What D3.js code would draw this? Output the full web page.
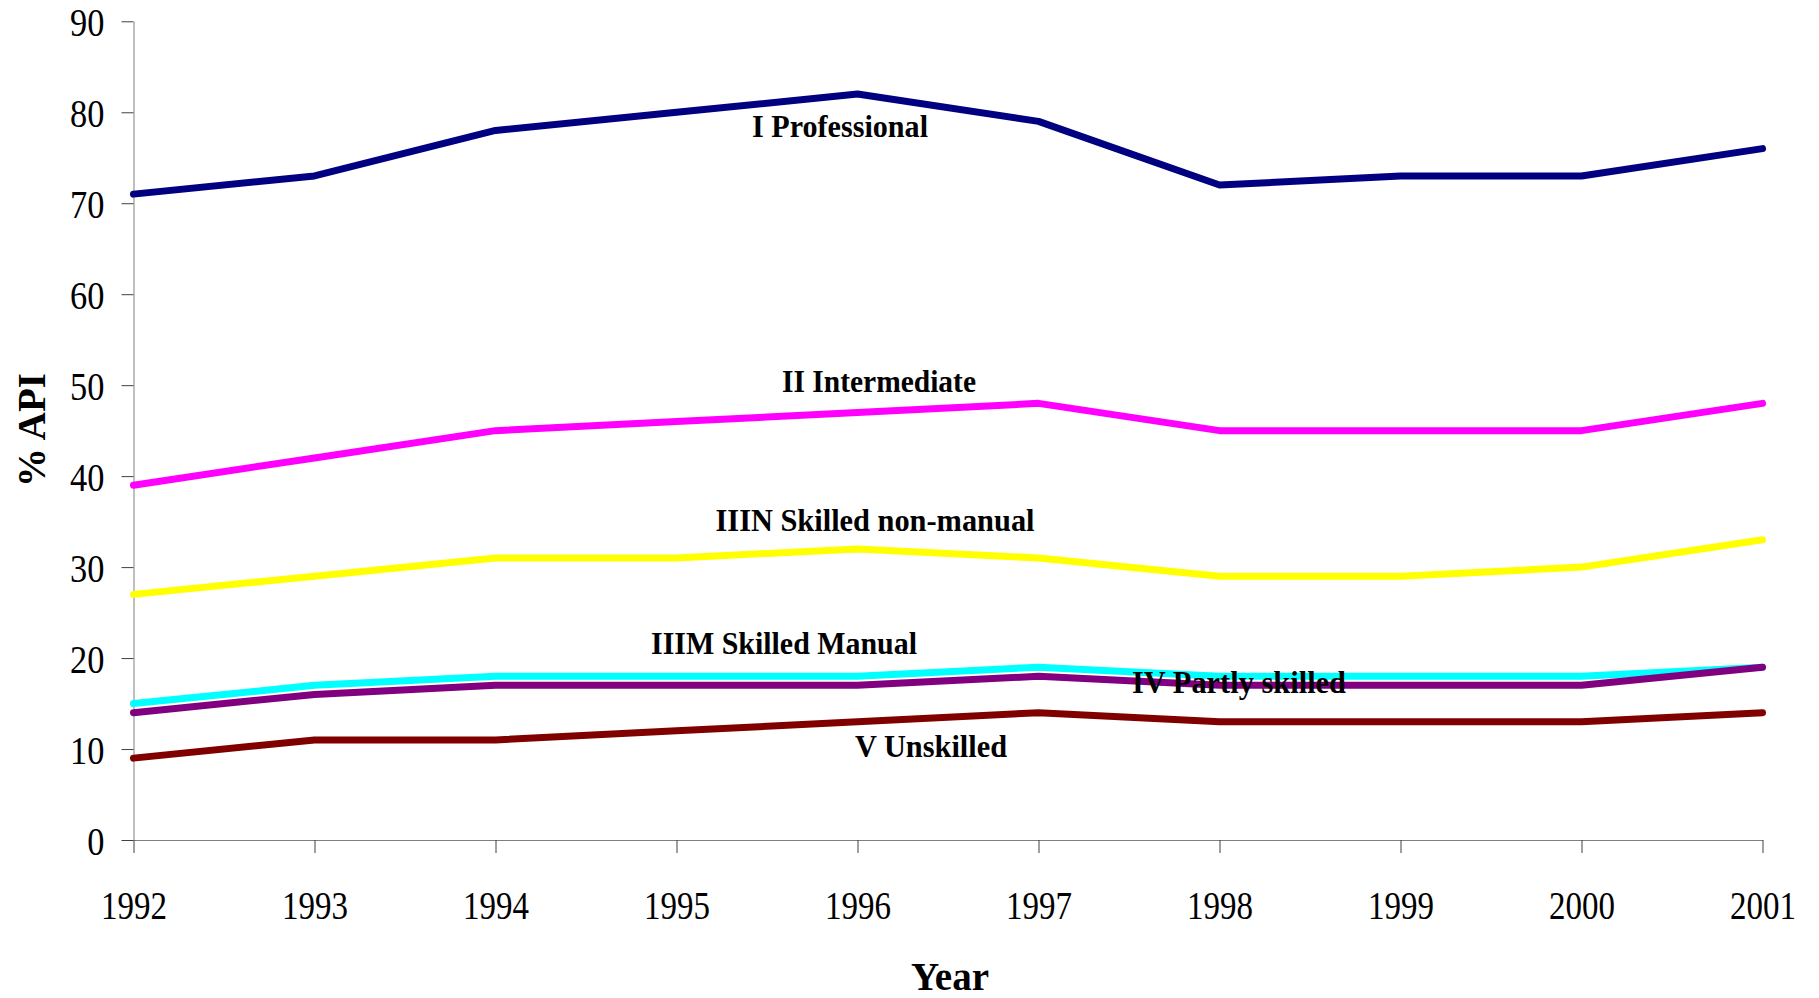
<!DOCTYPE html>
<html>
<head>
<meta charset="utf-8">
<script src="https://cdn.jsdelivr.net/npm/d3@7"></script>
<style>
  body { margin: 0; background: #fff; }
  svg { display: block; font-family: "Liberation Serif", "Times New Roman", serif; }
</style>
</head>
<body>
<div id="chart"></div>
<script>
const years = [1992, 1993, 1994, 1995, 1996, 1997, 1998, 1999, 2000, 2001];
const yTicks = [0, 10, 20, 30, 40, 50, 60, 70, 80, 90];

const professional = [71, 73, 78, 80, 82, 79, 72, 73, 73, 76];
const intermediate = [39, 42, 45, 46, 47, 48, 45, 45, 45, 48];
const skilledNonManual = [27, 29, 31, 31, 32, 31, 29, 29, 30, 33];
const skilledManual = [15, 17, 18, 18, 18, 19, 18, 18, 18, 19];
const partlySkilled = [14, 16, 17, 17, 17, 18, 17, 17, 17, 19];
const unskilled = [9, 11, 11, 12, 13, 14, 13, 13, 13, 14];

const seriesNames = ["I Professional", "II Intermediate", "IIIN Skilled non-manual",
    "IIIM Skilled Manual", "IV Partly skilled", "V Unskilled"];
const seriesValues = [professional, intermediate, skilledNonManual, skilledManual, partlySkilled, unskilled];
const seriesColors = ["#000080", "#ff00ff", "#ffff00", "#00ffff", "#800080", "#800000"];

// label placement: center x, baseline y, drawn width (px)
const labelPos = [
    { x: 840, y: 137, w: 176 },
    { x: 879, y: 392, w: 194 },
    { x: 875, y: 531, w: 319 },
    { x: 784, y: 654, w: 266 },
    { x: 1239, y: 693, w: 214 },
    { x: 931, y: 757, w: 152 },
];

const width = 1819, height = 998;

const x = d3.scalePoint()
    .domain(years)
    .range([133.5, 1762.5]);

const y = d3.scaleLinear()
    .domain([0, 90])
    .range([840, 21.3]);

const svg = d3.select("#chart")
    .append("svg")
    .attr("width", width)
    .attr("height", height);

// y axis
const yAxis = svg.append("g")
    .attr("transform", "translate(133.5,0)")
    .call(d3.axisLeft(y).tickValues(yTicks).tickSize(12).tickPadding(17).tickSizeOuter(0));

yAxis.select(".domain").attr("stroke", "#808080");
yAxis.selectAll(".tick line").attr("stroke", "#404040");
yAxis.selectAll(".tick text")
    .attr("font-size", 39)
    .attr("font-family", "Liberation Serif, Times New Roman, serif")
    .attr("fill", "#000")
    .attr("dy", "0.36em")
    .attr("textLength", d => String(d).length * 17.2)
    .attr("lengthAdjust", "spacingAndGlyphs");

// x axis
const xAxis = svg.append("g")
    .attr("transform", "translate(0,840)")
    .call(d3.axisBottom(x).tickSize(13).tickSizeOuter(0));

xAxis.select(".domain").attr("stroke", "#808080");
xAxis.selectAll(".tick line").attr("stroke", "#404040");
xAxis.selectAll(".tick text")
    .attr("font-size", 39)
    .attr("font-family", "Liberation Serif, Times New Roman, serif")
    .attr("fill", "#000")
    .attr("y", 79)
    .attr("dy", 0)
    .attr("textLength", 66)
    .attr("lengthAdjust", "spacingAndGlyphs");

// lines
const line = d3.line()
    .x((d, i) => x(years[i]))
    .y(d => y(d));

svg.selectAll("path.series")
    .data(seriesValues)
    .enter()
    .append("path")
    .attr("class", "series")
    .attr("d", d => line(d))
    .attr("fill", "none")
    .attr("stroke", (d, i) => seriesColors[i])
    .attr("stroke-width", 7)
    .attr("stroke-linejoin", "round")
    .attr("stroke-linecap", "round");

// series labels
svg.selectAll("text.label")
    .data(seriesNames)
    .enter()
    .append("text")
    .attr("class", "label")
    .attr("x", (d, i) => labelPos[i].x)
    .attr("y", (d, i) => labelPos[i].y)
    .attr("text-anchor", "middle")
    .attr("font-size", 32)
    .attr("font-weight", "bold")
    .attr("textLength", (d, i) => labelPos[i].w)
    .attr("lengthAdjust", "spacingAndGlyphs")
    .text(d => d);

// axis titles
svg.append("text")
    .attr("x", 950)
    .attr("y", 990)
    .attr("text-anchor", "middle")
    .attr("font-size", 40)
    .attr("font-weight", "bold")
    .attr("textLength", 78)
    .attr("lengthAdjust", "spacingAndGlyphs")
    .text("Year");

svg.append("text")
    .attr("transform", "translate(45,430) rotate(-90)")
    .attr("text-anchor", "middle")
    .attr("font-size", 39)
    .attr("font-weight", "bold")
    .text("% API");
</script>
</body>
</html>
